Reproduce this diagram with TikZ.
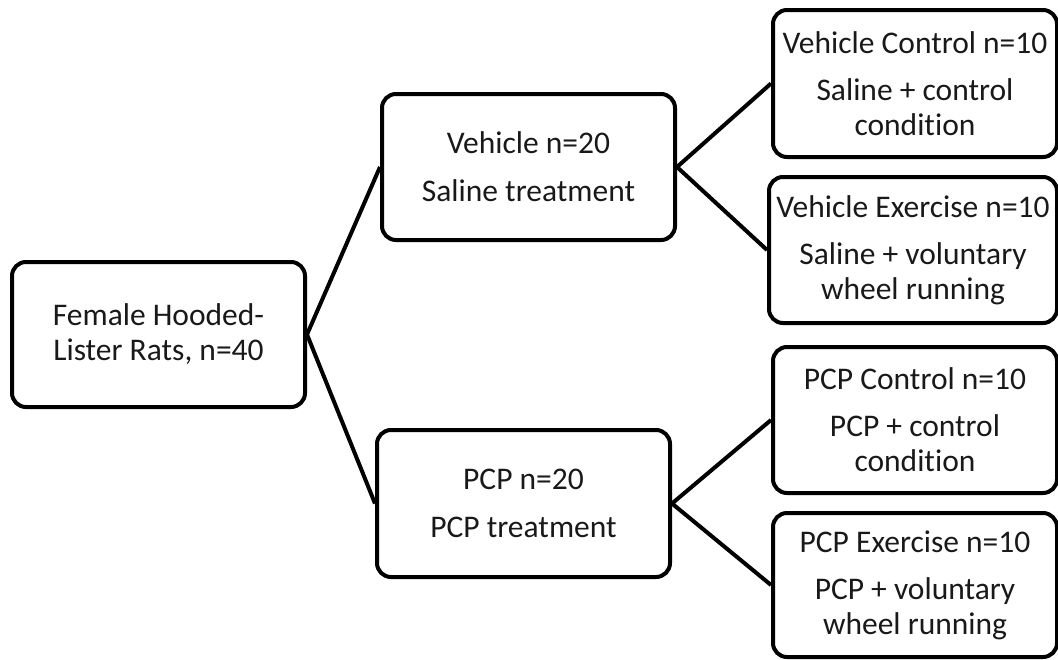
\documentclass[tikz,border=0pt]{standalone}
\usepackage{fontspec}
\setmainfont{Carlito}[Ligatures={NoCommon,NoContextual}]
\newcommand{\cond}{condit\kern0pt ion}
\begin{document}
\begin{tikzpicture}[x=1pt,y=-1pt,
  box/.style={draw=black, line width=4pt, rounded corners=14pt, align=center,
    inner sep=0pt, text=black!90, font=\fontsize{31.5}{35}\selectfont},
  conn/.style={draw=black, line width=4pt}]
\useasboundingbox (0,0) rectangle (1058,659);
\clip (0,0) rectangle (1058,659);
\node[box, minimum width=293pt, minimum height=145pt] (A) at (158.5,334.5) {Female Hooded-\\Lister Rats, n=40};
\node[box, minimum width=293pt, minimum height=146pt] (V) at (528.5,167) {Vehicle n=20\\[13pt]Saline treatment};
\node[box, minimum width=293pt, minimum height=147pt] (P) at (523.5,503.5) {PCP n=20\\[13pt]PCP treatment};
\node[box, minimum width=284pt, minimum height=147pt] (R1) at (915,83.5) {Vehicle Control n=10\\[12pt]Saline + control\\\cond};
\node[box, minimum width=288pt, minimum height=146pt] (R2) at (913,250) {Vehicle Exercise n=10\\[12pt]Saline + voluntary\\wheel running};
\node[box, minimum width=284pt, minimum height=146pt] (R3) at (915,420) {PCP Control n=10\\[12pt]PCP + control\\\cond};
\node[box, minimum width=284pt, minimum height=144pt] (R4) at (915,585) {PCP Exercise n=10\\[12pt]PCP + voluntary\\wheel running};
\draw[conn] (V.west) -- (A.east) -- (P.west);
\draw[conn] (R1.west) -- (V.east) -- (R2.west);
\draw[conn] (R3.west) -- (P.east) -- (R4.west);
\end{tikzpicture}
\end{document}
